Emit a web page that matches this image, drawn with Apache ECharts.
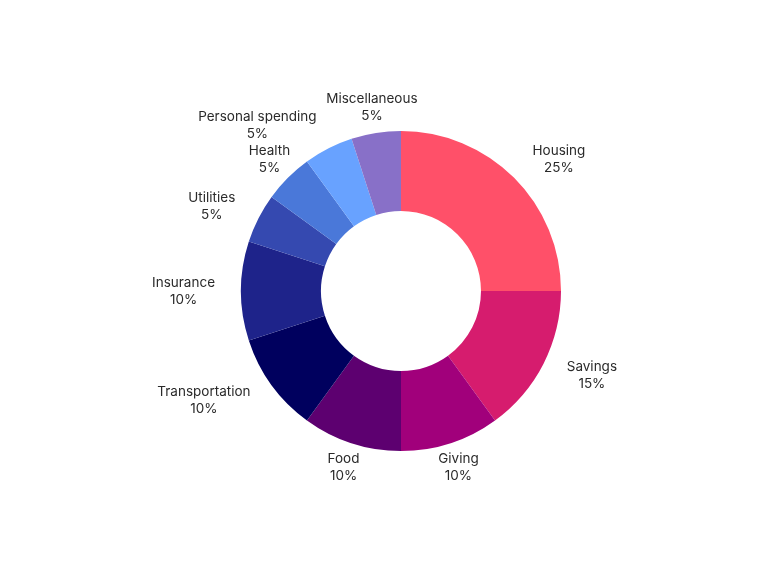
<!DOCTYPE html>
<html>
<head>
<meta charset="utf-8">
<script src="https://cdn.jsdelivr.net/npm/echarts@6/dist/echarts.min.js"></script>
<style>html,body{margin:0;padding:0;background:#fff}#c{width:768px;height:576px}</style>
</head>
<body>
<div id="c"></div>
<script>
const categories = ['Housing','Savings','Giving','Food','Transportation','Insurance','Utilities','Health','Personal spending','Miscellaneous'];
const values = [25, 15, 10, 10, 10, 10, 5, 5, 5, 5];

const colors = ['#FF5069','#D61C6E','#A1007B','#5D0070','#00005E','#1E238A','#3549B0','#4A78D9','#68A2FF','#8870C8'];
const labelAligns = ['left','left','center','center','right','right','right','center','right','center'];

const chart = echarts.init(document.getElementById('c'), null, {renderer:'canvas'});
chart.setOption({
  animation: false,
  series: [{
    type: 'pie',
    center: [401, 291],
    radius: [80, 160],
    startAngle: 90,
    clockwise: true,
    avoidLabelOverlap: false,
    data: categories.map((n, i) => ({ name: n, value: values[i], itemStyle: { color: colors[i] } })),
    itemStyle: { borderWidth: 0 },
    label: {
      show: true,
      position: 'outside',
      formatter: '{t|{b}}\n{t|{c}%}',
      rich: {
        t: { align: 'center', fontFamily: 'Inter', fontSize: 13.5, color: '#2a2a2a', lineHeight: 17 }
      },
      distanceToLabelLine: 0
    },
    labelLine: { show: false, length: 26, length2: 0 },
    emphasis: { disabled: true },
    labelLayout: function (p) {
      const pts = p.labelLinePoints;
      if (!pts) return {};
      const pt = pts[pts.length - 1];
      return { x: pt[0], y: pt[1], align: labelAligns[p.dataIndex], verticalAlign: 'middle' };
    }
  }]
});
</script>
</body>
</html>
